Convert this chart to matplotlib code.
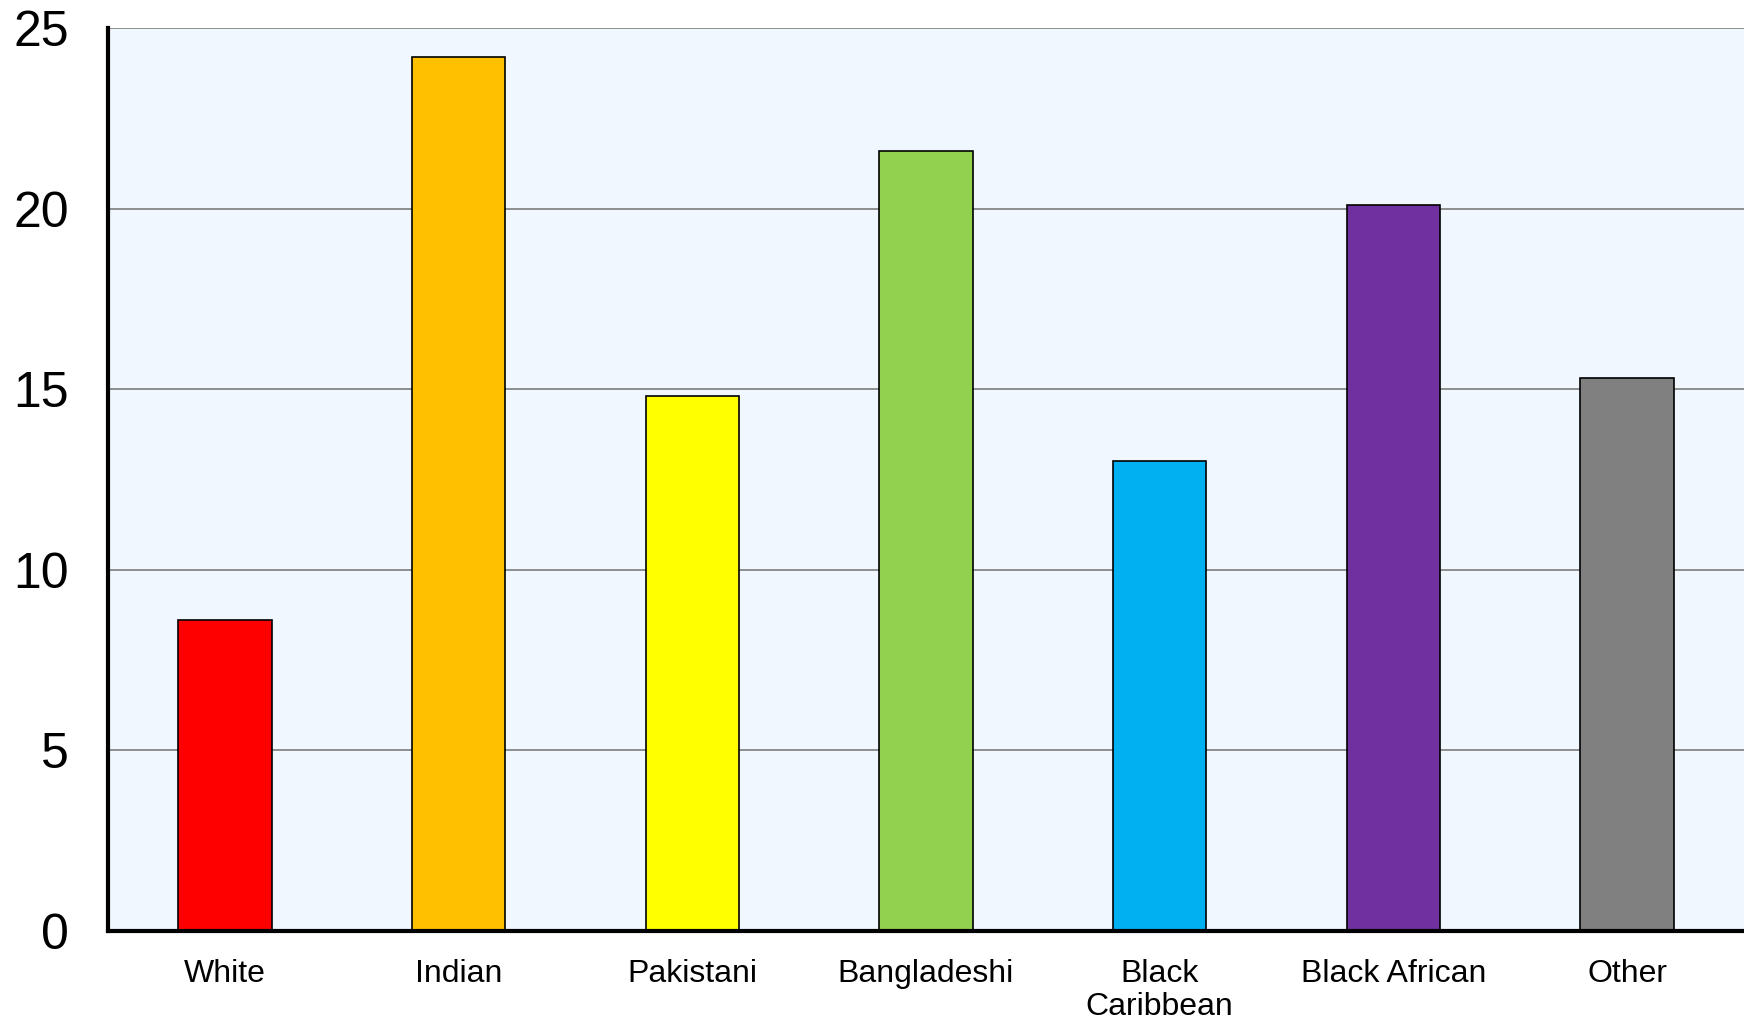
import matplotlib
matplotlib.use("Agg")
import matplotlib.pyplot as plt

categories = ["White", "Indian", "Pakistani", "Bangladeshi", "Black\nCaribbean", "Black African", "Other"]
values = [8.6, 24.2, 14.8, 21.6, 13.0, 20.1, 15.3]
colors = ["#FF0000", "#FFC000", "#FFFF00", "#92D050", "#00B0F0", "#7030A0", "#808080"]
yticks = [0, 5, 10, 15, 20, 25]

plt.rcParams['font.family'] = ['Liberation Sans', 'DejaVu Sans']

W, H = 1744, 1021
fig = plt.figure(figsize=(W / 100, H / 100), dpi=100)
ax = fig.add_axes([108 / W, (H - 931) / H, 1 - 108 / W, (931 - 28) / H])
ax.set_facecolor("#F0F7FE")

x = range(len(categories))
ax.bar(x, values, width=0.4, color=colors, edgecolor="black", linewidth=1.2, zorder=3)

ax.set_xlim(-0.5, len(categories) - 0.5)
ax.set_ylim(0, 25)
ax.set_yticks(yticks)
ax.set_yticklabels([str(t) for t in yticks], fontsize=36)
ax.set_xticks(list(x))
ax.set_xticklabels(categories, fontsize=23, va="top", linespacing=1.12)
ax.tick_params(axis="y", length=0, pad=28)
ax.tick_params(axis="x", length=0, pad=20)
ax.yaxis.grid(True, color="#858585", linewidth=1.3, zorder=0)
ax.set_axisbelow(True)

for s in ["top", "right"]:
    ax.spines[s].set_visible(False)
ax.spines["left"].set_linewidth(3)
ax.spines["bottom"].set_linewidth(3)
ax.spines["left"].set_zorder(5)
ax.spines["bottom"].set_zorder(5)

fig.savefig("out.png", dpi=100)
